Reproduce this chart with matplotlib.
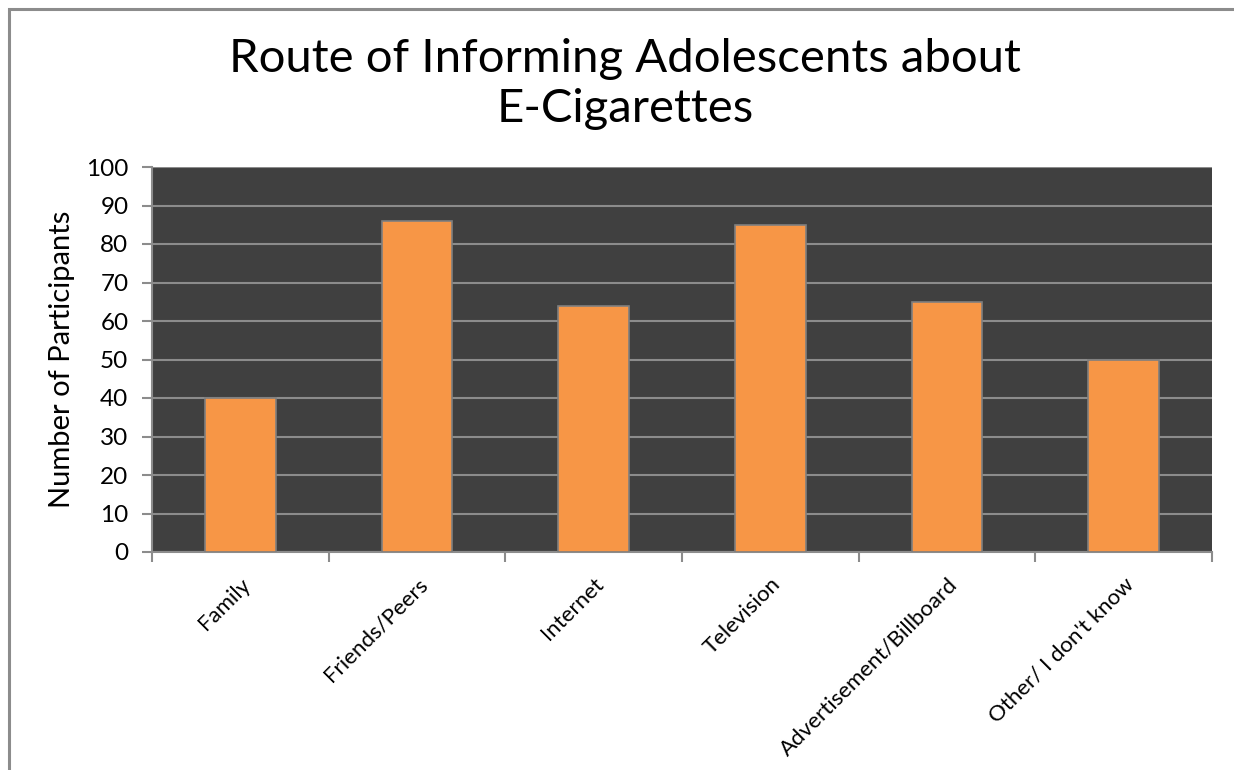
import matplotlib.pyplot as plt
from matplotlib.patches import Rectangle

# data
categories = ["Family", "Friends/Peers", "Internet", "Television",
              "Advertisement/Billboard", "Other/ I don't know"]
participants = [40, 86, 64, 85, 65, 50]

plt.rcParams['font.family'] = ['Lato', 'DejaVu Sans']

W, H = 1234, 770
fig = plt.figure(figsize=(W / 100, H / 100), dpi=100)

# outer chart border (runs off the right and bottom edges)
fig.patches.append(Rectangle((9 / W, -0.05), 1.2, 1 - 9 / H + 0.05,
                             transform=fig.transFigure, fill=False,
                             edgecolor="#8c8c8c", linewidth=2.2))

ax = fig.add_axes([152 / W, 1 - 552 / H, (1212 - 152) / W, (552 - 167) / H])
ax.set_facecolor("#404040")

x = list(range(len(categories)))
ax.bar(x, participants, width=0.4, color="#F79646",
       edgecolor="#7f7f7f", linewidth=1.2, zorder=3)

ax.set_xlim(-0.5, len(categories) - 0.5)
ax.set_ylim(0, 100)
ax.set_yticks(range(0, 101, 10))
ax.yaxis.grid(True, color="#8c8c8c", linewidth=1.5, zorder=1)
ax.set_axisbelow(True)

# ticks at the category boundaries, labels at the centres
ax.set_xticks([i - 0.5 for i in range(len(categories) + 1)])
ax.set_xticklabels([])
ax.set_xticks(x, minor=True)
ax.set_xticklabels(categories, minor=True, rotation=45, ha="right",
                   rotation_mode="anchor", fontsize=16)
ax.tick_params(axis="x", which="minor", length=0, pad=16)
ax.tick_params(axis="x", which="major", length=7, width=1.5, color="#8c8c8c")
ax.tick_params(axis="y", length=7, width=1.5, color="#8c8c8c",
               labelsize=17.5, pad=10)

for side in ["top", "right"]:
    ax.spines[side].set_visible(False)
for side in ["left", "bottom"]:
    ax.spines[side].set_color("#8c8c8c")
    ax.spines[side].set_linewidth(1.5)

ax.set_ylabel("Number of Participants", fontsize=21, labelpad=8)
fig.text(625 / W, 1 - 84 / H,
         "Route of Informing Adolescents about\nE-Cigarettes",
         ha="center", va="center", fontsize=34, linespacing=1.25)

fig.savefig("out.png", dpi=100)
